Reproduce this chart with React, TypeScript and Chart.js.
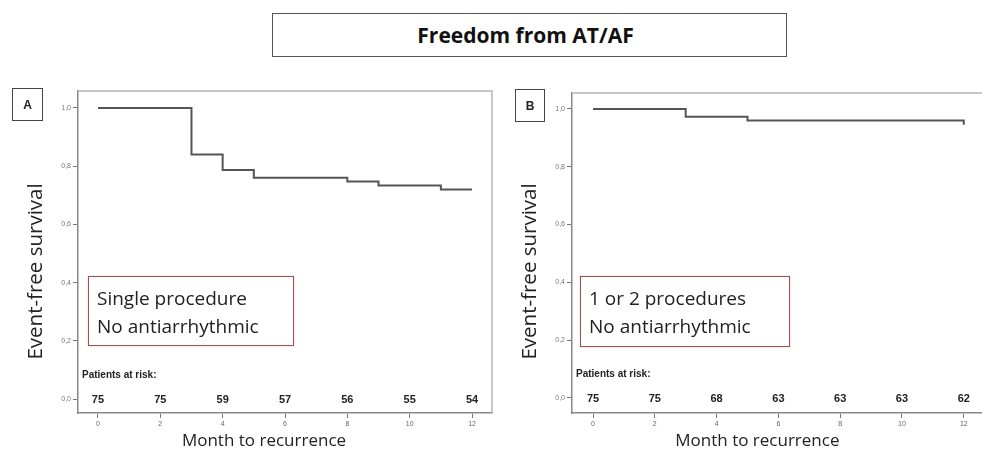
import React, { useEffect, useRef } from 'react';
import { Chart, registerables } from 'chart.js';
Chart.register(...registerables);

// ---- data ----
const monthTicks = [0, 2, 4, 6, 8, 10, 12];
const survivalTicks = [0, 0.2, 0.4, 0.6, 0.8, 1.0];
const atRiskA = [75, 75, 59, 57, 56, 55, 54];
const atRiskB = [75, 75, 68, 63, 63, 63, 62];
const timesA = [0, 3, 4, 5, 8, 9, 11, 12];
const survA = [1.0, 0.84, 0.787, 0.76, 0.747, 0.733, 0.72, 0.72];
const timesB = [0, 3, 5, 12, 12];
const survB = [1.0, 0.973, 0.96, 0.96, 0.945];
const titleText = 'Freedom from AT/AF';
const yTitle = 'Event-free survival';
const xTitle = 'Month to recurrence';
const atRiskLabel = 'Patients at risk:';
const legendA = ['Single procedure', 'No antiarrhythmic'];
const legendB = ['1 or 2 procedures', 'No antiarrhythmic'];

type PanelProps = {
  left: number; top: number; width: number; height: number;
  padTop: number; padRight: number; yWidth: number; xHeight: number;
  xMin: number; xMax: number; yMin: number; yMax: number;
  times: number[]; surv: number[]; atRisk: number[]; rightBorder: boolean;
};

function Panel(p: PanelProps) {
  const ref = useRef<HTMLCanvasElement>(null);
  useEffect(() => {
    if (!ref.current) return;
    const overlay = {
      id: 'overlay',
      afterDraw(chart: any) {
        const { ctx, chartArea } = chart;
        const xs = chart.scales.x;
        const ys = chart.scales.y;
        ctx.save();
        // frame top / right
        ctx.strokeStyle = '#b5b5b5';
        ctx.lineWidth = 1.5;
        ctx.beginPath();
        ctx.moveTo(chartArea.left, chartArea.top);
        ctx.lineTo(chartArea.right, chartArea.top);
        if (p.rightBorder) ctx.lineTo(chartArea.right, chartArea.bottom);
        ctx.stroke();
        // at risk
        const y0 = ys.getPixelForValue(0);
        ctx.fillStyle = '#222';
        ctx.font = 'bold 10px "Liberation Sans", Arial, sans-serif';
        ctx.textAlign = 'left';
        ctx.textBaseline = 'middle';
        ctx.fillText(atRiskLabel, chartArea.left + 4, y0 - 24);
        ctx.font = 'bold 11px "Liberation Sans", Arial, sans-serif';
        ctx.textAlign = 'center';
        p.atRisk.forEach((n, i) => {
          ctx.fillText(String(n), xs.getPixelForValue(monthTicks[i]), y0 + 1);
        });
        // axis titles
        ctx.fillStyle = '#222';
        ctx.font = '17px "Open Sans", sans-serif';
        const xc = (xs.getPixelForValue(0) + xs.getPixelForValue(12)) / 2 - 21;
        ctx.fillText(xTitle, xc, chartArea.bottom + 28);
        const yc = (ys.getPixelForValue(0) + ys.getPixelForValue(1)) / 2 + 18;
        ctx.translate(chartArea.left - 42, yc);
        ctx.rotate(-Math.PI / 2);
        ctx.font = '20.5px "Open Sans", sans-serif';
        ctx.fillText(yTitle, 0, 0);
        ctx.restore();
      },
    };
    const chart = new Chart(ref.current, {
      type: 'line',
      data: {
        datasets: [{
          data: p.times.map((t, i) => ({ x: t, y: p.surv[i] })),
          stepped: true,
          borderColor: '#555',
          borderWidth: 2,
          pointRadius: 0,
          fill: false,
        }],
      },
      options: {
        animation: false,
        responsive: false,
        devicePixelRatio: 1,
        layout: { padding: { top: p.padTop, right: p.padRight, left: 0, bottom: 0 } },
        plugins: { legend: { display: false }, tooltip: { enabled: false } },
        scales: {
          x: {
            type: 'linear', min: p.xMin, max: p.xMax,
            afterBuildTicks: (s: any) => { s.ticks = monthTicks.map((v) => ({ value: v })); },
            afterFit: (s: any) => { s.height = p.xHeight; },
            grid: { drawOnChartArea: false, drawTicks: true, tickLength: 5, color: '#777' },
            border: { display: true, color: '#888', width: 1.5 },
            ticks: { font: { size: 7, family: 'Arial' }, color: '#666', padding: 2, maxRotation: 0, callback: (v: any) => String(v) },
          },
          y: {
            type: 'linear', min: p.yMin, max: p.yMax,
            afterBuildTicks: (s: any) => { s.ticks = survivalTicks.map((v) => ({ value: v })); },
            afterFit: (s: any) => { s.width = p.yWidth; },
            grid: { drawOnChartArea: false, drawTicks: true, tickLength: 5, color: '#777' },
            border: { display: true, color: '#888', width: 1.5 },
            ticks: { font: { size: 7, family: 'Arial' }, color: '#777', padding: 2, callback: (v: any) => Number(v).toFixed(1).replace('.', ',') },
          },
        },
      },
      plugins: [overlay],
    } as any);
    return () => chart.destroy();
  }, []);
  return (
    <canvas ref={ref} width={p.width} height={p.height}
      style={{ position: 'absolute', left: p.left, top: p.top, width: p.width, height: p.height }} />
  );
}

const boxStyle = (l: number, t: number, w: number, h: number): React.CSSProperties => ({
  position: 'absolute', left: l, top: t, width: w, height: h, boxSizing: 'border-box',
});

export default function App() {
  const legendText: React.CSSProperties = {
    fontFamily: '"Open Sans", sans-serif', fontSize: 19, lineHeight: '28px', color: '#222',
    paddingLeft: 8, paddingTop: 7, whiteSpace: 'nowrap',
  };
  const letter: React.CSSProperties = {
    border: '1.5px solid #444', fontFamily: 'Arial, sans-serif', fontWeight: 'bold', fontSize: 12,
    display: 'flex', alignItems: 'center', justifyContent: 'center', color: '#222',
  };
  return (
    <div style={{ position: 'absolute', left: 0, top: 0, width: 982, height: 450, background: '#fff', overflow: 'hidden' }}>
      <div style={{ ...boxStyle(272, 13, 515, 44), border: '1.5px solid #555', display: 'flex', alignItems: 'center', justifyContent: 'center',
        fontFamily: '"Open Sans", sans-serif', fontWeight: 'bold', fontSize: 21, color: '#111', paddingRight: 8 }}>
        {titleText}
      </div>
      <Panel left={0} top={60} width={496} height={390} padTop={31} padRight={4} yWidth={78} xHeight={37}
        xMin={-0.64} xMax={12.64} yMin={-0.048} yMax={1.058}
        times={timesA} surv={survA} atRisk={atRiskA} rightBorder={true} />
      <Panel left={496} top={60} width={486} height={390} padTop={33} padRight={0} yWidth={76} xHeight={37}
        xMin={-0.68} xMax={12.59} yMin={-0.052} yMax={1.055}
        times={timesB} surv={survB} atRisk={atRiskB} rightBorder={false} />
      <div style={{ ...boxStyle(12, 88, 31, 33), ...letter }}>A</div>
      <div style={{ ...boxStyle(515, 89, 30, 33), ...letter }}>B</div>
      <div style={{ ...boxStyle(88, 276, 206, 70), border: '1.5px solid #a3504c', boxShadow: '0 0 2px #f2c8c8', background: '#fff', ...legendText }}>
        {legendA.map((s) => <div key={s}>{s}</div>)}
      </div>
      <div style={{ ...boxStyle(580, 276, 210, 71), border: '1.5px solid #a3504c', boxShadow: '0 0 2px #f2c8c8', background: '#fff', ...legendText }}>
        {legendB.map((s) => <div key={s}>{s}</div>)}
      </div>
    </div>
  );
}
